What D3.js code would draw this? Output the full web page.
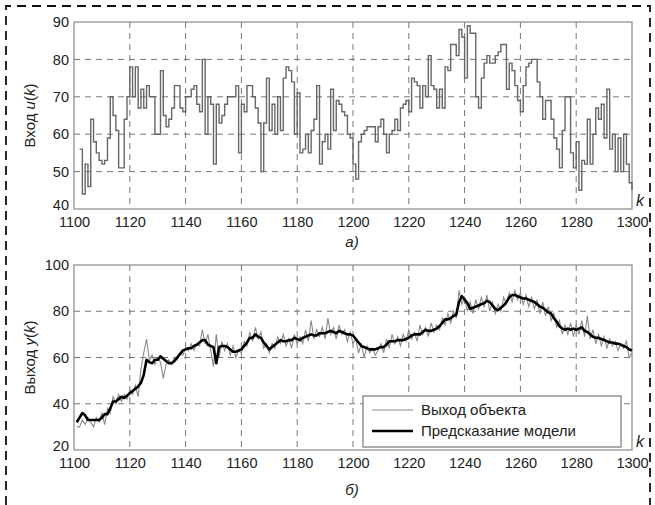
<!DOCTYPE html>
<html>
<head>
<meta charset="utf-8">
<script src="https://cdn.jsdelivr.net/npm/d3@7"></script>
<style>
  body { margin: 0; background: #fff; }
  text { font-family: "Liberation Sans", Arial, sans-serif; fill: #222; }
</style>
</head>
<body>
<div id="chart"></div>
<script>
// input u(k), one value per step, k = 1102 ... 1300
const kInput = d3.range(1102, 1301);
const uValues = [
  56, 44, 52, 46, 64, 58, 55, 53, 52, 53,
  59, 70, 65, 61, 51, 51, 64, 70, 78, 70,
  78, 67, 72, 67, 73, 70, 70, 60, 60, 77,
  65, 62, 64, 67, 73, 73, 67, 66,
  70, 70, 72, 73, 68, 66, 80, 60, 70, 68,
  52, 68, 63, 65, 68, 70, 70, 70, 73, 55,
  68, 66, 73, 73, 70, 67, 63, 50, 63, 75,
  61, 68, 60, 70, 61, 75, 78, 77, 74, 60,
  71, 55, 56, 60, 55, 61, 64, 73, 52, 58,
  60, 56, 72, 61, 69, 68, 66, 65, 60, 59,
  52, 48, 58, 60, 61, 62, 62, 62, 58, 62,
  64, 60, 55, 60, 61, 64, 61, 67, 68, 69,
  66, 75, 74, 73, 67, 73, 70, 81, 73, 72,
  67, 72, 67, 78, 77, 84, 84, 81, 88, 86,
  75, 89, 87, 87, 70, 67, 75, 79, 81, 79,
  79, 81, 82, 84, 84, 72, 79, 77, 73,
  69, 66, 73, 78, 79, 80, 80, 74, 70, 64,
  69, 69, 64, 59, 56, 51, 61, 70, 70, 55,
  51, 58, 45, 53, 52, 64, 52, 60, 67, 64,
  68, 59, 72, 56, 60, 50, 59, 50, 60, 52,
  47, 45
];

// output y(k) and model prediction, k = 1101 ... 1300
const kOutput = d3.range(1101, 1301);
const yObject = [
  30, 30, 33, 31, 34, 32, 30, 34, 32, 36,
  31, 38, 36, 43, 40, 44, 41, 44, 42, 46,
  44, 48, 43, 55, 62, 68, 59, 61, 57, 60,
  58, 51, 57, 59, 57, 60, 59, 62, 61, 64,
  63, 66, 63, 66, 65, 72, 66, 70, 63, 56,
  70, 60, 67, 63, 66, 61, 65, 60, 63, 62,
  67, 65, 71, 67, 73, 68, 71, 64, 66, 62,
  66, 64, 69, 66, 70, 65, 68, 64, 70, 66,
  69, 66, 72, 67, 76, 68, 72, 69, 73, 68,
  77, 70, 73, 68, 74, 70, 72, 67, 71, 66,
  68, 62, 66, 60, 65, 62, 64, 61, 63, 66,
  62, 68, 64, 70, 66, 69, 65, 70, 67, 72,
  68, 71, 67, 74, 70, 73, 69, 75, 71, 74,
  72, 77, 74, 79, 75, 80, 77, 89, 83, 86,
  80, 84, 79, 85, 81, 86, 82, 87, 80, 84,
  79, 83, 80, 86, 83, 88, 84, 89, 85, 88,
  83, 87, 82, 86, 81, 85, 79, 84, 78, 82,
  76, 79, 73, 76, 70, 74, 70, 75, 69, 74,
  70, 76, 69, 78, 68, 72, 66, 70, 65, 69,
  64, 68, 65, 67, 63, 66, 64, 67, 60, 62
];
const yModel = [
  32, 34, 36, 35, 33, 33, 33, 33, 33, 34,
  35.5, 35.5, 38, 41, 41, 42, 43, 42.5, 43.5, 44.5,
  45.5, 46.5, 47.5, 49, 52.5, 59, 58, 57.5, 59, 59,
  60.5, 59.5, 58.5, 57.5, 57.5, 58.5, 60, 61.5, 63, 63.5,
  64, 64, 65, 65.5, 66.5, 67.5, 67.5, 65.5, 65, 64.5,
  57.5, 64.5, 65, 65, 64.5, 63.5, 62.5, 62.5, 63, 63.5,
  65, 66.5, 68.5, 68.5, 70, 69, 68.5, 66.5, 65, 63.5,
  64.5, 65.5, 66.5, 67.5, 67, 67, 67.5, 67.5, 68.5, 68,
  67.5, 68.5, 69, 69.5, 70, 69.5, 69.5, 70.5, 70.5, 70.5,
  71, 71.5, 71, 70.5, 71.5, 71, 70.5, 70, 70, 69.5,
  68, 66.5, 65, 64.5, 64, 63.5, 63.5, 63.5, 64, 64.5,
  64.5, 65.5, 67, 67, 67, 67.5, 67.5, 67.5, 68, 68.5,
  69.5, 70, 70, 70, 71, 72, 71.5, 71.5, 72, 72.5,
  73.5, 75, 76.5, 76.5, 77, 78, 78.5, 84, 86.5, 85,
  83.5, 81, 81.5, 82, 82.5, 83, 83.5, 84.5, 84, 82.5,
  81, 80.5, 81.5, 82.5, 84, 86, 87, 87, 86.5, 86,
  85.5, 85.5, 85, 84.5, 84, 83, 82, 81.5, 80.5, 79.5,
  79, 77, 75.5, 73.5, 72.5, 72, 72.5, 72, 72.5, 72,
  72.5, 73, 71.5, 71, 70, 69, 68.5, 68.5, 68, 67.5,
  67, 66.5, 66.5, 66, 66, 65.5, 65, 64.5, 63.5, 63
];

const xTicks = d3.range(1100, 1301, 20);
const uTicks = [40, 50, 60, 70, 80, 90];
const yTicks = [20, 40, 60, 80, 100];
const legendNames = ["Выход объекта", "Предсказание модели"];

const width = 655, height = 505;
const svg = d3.select("#chart")
  .append("svg")
  .attr("width", width)
  .attr("height", height);

// dashed frame around the figure
svg.append("path")
  .attr("d", "M6,520 V6 H650 V520")
  .attr("fill", "none")
  .attr("stroke", "#111")
  .attr("stroke-width", 1.8)
  .attr("stroke-dasharray", "9,6");

const x = d3.scaleLinear().domain([1100, 1300]).range([74, 632]);

function panel(yScale, ticks, label, caption, captionY) {
  const g = svg.append("g");
  const [y0, y1] = yScale.range();

  g.selectAll(".vgrid")
    .data(xTicks.slice(1, -1))
    .enter().append("line")
    .attr("x1", d => x(d)).attr("x2", d => x(d))
    .attr("y1", y1).attr("y2", y0)
    .attr("stroke", "#777").attr("stroke-width", 1)
    .attr("stroke-dasharray", "6,5");

  g.selectAll(".hgrid")
    .data(ticks.slice(1, -1))
    .enter().append("line")
    .attr("x1", 74).attr("x2", 632)
    .attr("y1", d => yScale(d)).attr("y2", d => yScale(d))
    .attr("stroke", "#777").attr("stroke-width", 1)
    .attr("stroke-dasharray", "6,5");

  g.append("rect")
    .attr("x", 74).attr("y", y1)
    .attr("width", 558).attr("height", y0 - y1)
    .attr("fill", "none").attr("stroke", "#888").attr("stroke-width", 1.2);

  const ax = g.append("g")
    .attr("transform", `translate(0,${y0})`)
    .call(d3.axisBottom(x).tickValues(xTicks).tickSize(0).tickPadding(8).tickFormat(d3.format("d")));
  ax.select(".domain").remove();
  ax.selectAll("text").style("font-size", "14.5px").attr("fill", "#222");

  const ay = g.append("g")
    .attr("transform", "translate(74,0)")
    .call(d3.axisLeft(yScale).tickValues(ticks).tickSize(0).tickPadding(5));
  ay.select(".domain").remove();
  ay.selectAll("text").style("font-size", "14.5px").attr("fill", "#222");
  // lowest label sits a little higher, clear of the first x label
  ay.selectAll(".tick text").filter(d => d === ticks[0]).attr("dy", "0.05em");

  g.append("text")
    .attr("x", 636).attr("y", y0 - 3)
    .style("font-size", "16px").style("font-style", "italic")
    .text("k");

  const lab = g.append("text")
    .attr("transform", `translate(35,${(y0 + y1) / 2}) rotate(-90)`)
    .attr("text-anchor", "middle")
    .style("font-size", "15px");
  lab.append("tspan").text(label[0] + " ");
  lab.append("tspan").style("font-style", "italic").text(label[1]);
  lab.append("tspan").text("(");
  lab.append("tspan").style("font-style", "italic").text("k");
  lab.append("tspan").text(")");

  g.append("text")
    .attr("x", 352).attr("y", captionY)
    .attr("text-anchor", "middle")
    .style("font-size", "15px").style("font-style", "italic")
    .text(caption);
}

// top: input
const yU = d3.scaleLinear().domain([40, 90]).range([209, 22]);
panel(yU, uTicks, ["Вход", "u"], "а)", 247);

const stairs = d3.line()
  .x((d, i) => x(kInput[i]))
  .y(d => yU(d))
  .curve(d3.curveStepAfter);

svg.append("path")
  .datum(uValues)
  .attr("d", stairs)
  .attr("fill", "none")
  .attr("stroke", "#666")
  .attr("stroke-width", 1.4);

// bottom: output and prediction
const yY = d3.scaleLinear().domain([20, 100]).range([450, 265]);
panel(yY, yTicks, ["Выход", "y"], "б)", 495);

const outLine = d3.line()
  .x((d, i) => x(kOutput[i]))
  .y(d => yY(d));

svg.append("path")
  .datum(yObject)
  .attr("d", outLine)
  .attr("fill", "none")
  .attr("stroke", "#8a8a8a")
  .attr("stroke-width", 1.1);

svg.append("path")
  .datum(yModel)
  .attr("d", outLine)
  .attr("fill", "none")
  .attr("stroke", "#000")
  .attr("stroke-width", 2.6)
  .attr("stroke-linejoin", "round");

// legend
const legend = svg.append("g").attr("transform", "translate(363,396)");
legend.append("rect")
  .attr("width", 258).attr("height", 51)
  .attr("fill", "#fff").attr("stroke", "#777").attr("stroke-width", 1.2);

legend.selectAll("line")
  .data(legendNames)
  .enter().append("line")
  .attr("x1", 9).attr("x2", 50)
  .attr("y1", (d, i) => 14 + i * 21).attr("y2", (d, i) => 14 + i * 21)
  .attr("stroke", (d, i) => i ? "#000" : "#8a8a8a")
  .attr("stroke-width", (d, i) => i ? 2.6 : 1.1);

legend.selectAll("text")
  .data(legendNames)
  .enter().append("text")
  .attr("x", 58)
  .attr("y", (d, i) => 19 + i * 21)
  .style("font-size", "15px")
  .text(d => d);
</script>
</body>
</html>
